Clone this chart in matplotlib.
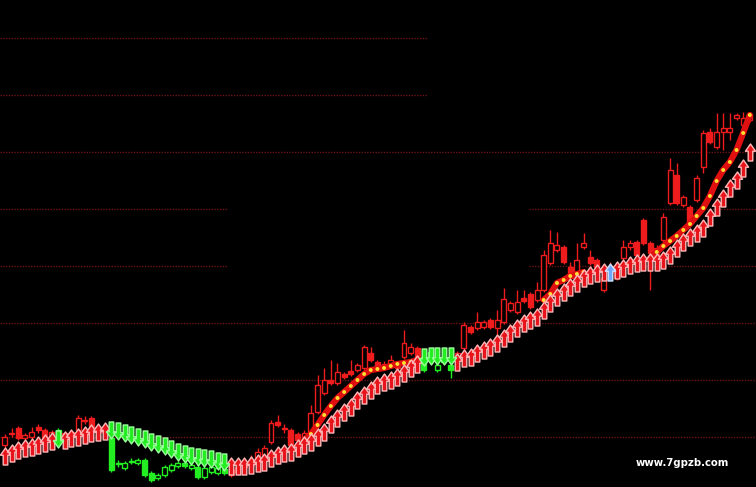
import numpy as np
import matplotlib.pyplot as plt
from matplotlib.path import Path

# 日K数据（开、收、高、低）
opens = [8.70, 8.94, 9.04, 8.84, 8.86, 9.06, 9.00, 8.88, 9.00, 8.86,
         8.90, 9.00, 9.20, 9.24, 9.06, 8.96, 8.84, 8.34, 8.24, 8.38,
         8.34, 8.40, 8.14, 8.04, 8.10, 8.20, 8.28, 8.34, 8.24, 8.26,
         8.06, 8.16, 8.14, 8.22, 8.20, 8.16, 8.26, 8.30, 8.36, 8.40,
         8.76, 9.16, 9.04, 9.00, 8.92, 8.80, 8.86, 9.36, 9.74, 10.00,
         9.94, 10.12, 10.18, 10.20, 10.24, 10.54, 10.36, 10.26, 10.30, 10.34,
         10.46, 10.54, 10.64, 10.46, 10.46, 10.20, 10.36, 10.30, 10.40, 10.64,
         11.06, 11.04, 11.06, 11.20, 11.04, 11.16, 11.40, 11.36, 11.64, 11.72,
         11.60, 11.80, 12.34, 12.60, 12.66, 12.26, 12.14, 12.66, 12.46, 12.40,
         11.80, 12.16, 12.20, 12.44, 12.66, 12.76, 13.20, 12.74, 12.50, 12.80,
         13.54, 14.10, 13.50, 13.46, 13.60, 14.26, 14.96, 14.66, 14.96, 14.96,
         15.24, 15.10, 15.20]
closes = [8.86, 8.92, 8.84, 8.90, 8.96, 9.00, 8.84, 8.96, 8.88, 8.94,
          8.96, 9.24, 9.18, 9.06, 8.96, 9.04, 8.20, 8.32, 8.34, 8.36,
          8.40, 8.10, 8.00, 8.10, 8.26, 8.30, 8.34, 8.28, 8.30, 8.06,
          8.24, 8.26, 8.24, 8.14, 8.10, 8.26, 8.32, 8.40, 8.56, 8.64,
          9.14, 9.10, 9.02, 8.70, 8.80, 8.94, 9.34, 9.90, 10.00, 9.94,
          10.16, 10.06, 10.12, 10.30, 10.66, 10.40, 10.24, 10.32, 10.40, 10.24,
          10.74, 10.66, 10.40, 10.20, 10.56, 10.30, 10.44, 10.20, 10.54, 11.10,
          10.96, 11.16, 11.16, 11.06, 11.20, 11.62, 11.54, 11.56, 11.58, 11.46,
          11.80, 12.50, 12.74, 12.70, 12.36, 12.04, 12.40, 12.74, 12.34, 12.26,
          12.04, 12.28, 12.04, 12.66, 12.74, 12.50, 12.74, 12.54, 12.64, 13.26,
          14.20, 13.54, 13.66, 13.14, 14.04, 14.94, 14.76, 14.96, 15.04, 15.04,
          15.30, 15.24, 15.32]
highs = [8.92, 9.04, 9.08, 8.94, 9.06, 9.12, 9.04, 9.00, 9.04, 8.98,
         9.00, 9.30, 9.28, 9.28, 9.10, 9.08, 8.88, 8.40, 8.38, 8.44,
         8.44, 8.44, 8.18, 8.14, 8.30, 8.34, 8.38, 8.38, 8.34, 8.30,
         8.28, 8.30, 8.28, 8.26, 8.24, 8.30, 8.36, 8.50, 8.64, 8.70,
         9.20, 9.30, 9.12, 9.04, 8.96, 9.00, 9.50, 10.10, 10.24, 10.40,
         10.34, 10.16, 10.40, 10.34, 10.70, 10.66, 10.40, 10.38, 10.50, 10.38,
         11.00, 10.74, 10.68, 10.50, 10.60, 10.34, 10.48, 10.34, 10.58, 11.16,
         11.10, 11.36, 11.20, 11.24, 11.40, 11.84, 11.58, 11.80, 11.80, 11.76,
         11.96, 12.60, 13.00, 12.96, 12.70, 12.36, 12.74, 12.94, 12.60, 12.44,
         12.10, 12.36, 12.24, 12.80, 12.80, 12.80, 13.24, 12.78, 12.70, 13.34,
         14.44, 14.34, 13.70, 13.50, 14.10, 15.00, 15.04, 15.34, 15.34, 15.34,
         15.34, 15.36, 15.36]
lows = [8.64, 8.86, 8.80, 8.80, 8.82, 8.94, 8.80, 8.84, 8.84, 8.82,
        8.86, 8.96, 9.12, 9.02, 8.92, 8.92, 8.16, 8.26, 8.20, 8.32,
        8.30, 8.06, 7.96, 8.00, 8.06, 8.16, 8.24, 8.24, 8.20, 8.02,
        8.02, 8.12, 8.10, 8.10, 8.06, 8.12, 8.22, 8.26, 8.32, 8.36,
        8.72, 9.06, 8.94, 8.66, 8.76, 8.76, 8.82, 9.32, 9.70, 9.90,
        9.90, 10.02, 10.08, 10.16, 10.20, 10.36, 10.20, 10.22, 10.26, 10.20,
        10.42, 10.50, 10.36, 10.16, 10.42, 10.16, 10.32, 10.04, 10.36, 10.60,
        10.92, 11.00, 11.02, 11.02, 10.86, 11.12, 11.36, 11.32, 11.54, 11.42,
        11.56, 11.76, 12.30, 12.56, 12.32, 12.00, 12.10, 12.62, 12.30, 12.22,
        11.76, 12.10, 12.00, 12.40, 12.60, 12.46, 12.70, 11.80, 12.44, 12.76,
        13.50, 13.50, 13.46, 13.10, 13.56, 14.14, 14.72, 14.62, 14.60, 14.80,
        15.20, 15.04, 15.16]

# 箭头支撑/压力线
support = [8.48, 8.54, 8.60, 8.64, 8.66, 8.70, 8.74, 8.78, 8.82, 8.80,
           8.84, 8.86, 8.90, 8.94, 8.96, 8.98, 9.00, 8.98, 8.94, 8.90,
           8.86, 8.82, 8.76, 8.72, 8.68, 8.62, 8.56, 8.52, 8.48, 8.46,
           8.44, 8.42, 8.38, 8.36, 8.28, 8.28, 8.28, 8.30, 8.34, 8.36,
           8.44, 8.50, 8.54, 8.56, 8.64, 8.70, 8.76, 8.86, 8.96, 9.12,
           9.24, 9.36, 9.46, 9.60, 9.70, 9.80, 9.90, 9.96, 10.00, 10.06,
           10.14, 10.24, 10.32, 10.46, 10.48, 10.48, 10.48, 10.48, 10.36, 10.44,
           10.46, 10.54, 10.60, 10.66, 10.74, 10.84, 10.94, 11.04, 11.14, 11.20,
           11.26, 11.40, 11.54, 11.66, 11.76, 11.86, 11.94, 12.04, 12.10, 12.14,
           12.16, 12.16, 12.20, 12.24, 12.30, 12.34, 12.36, 12.36, 12.36, 12.40,
           12.50, 12.64, 12.76, 12.86, 12.94, 13.04, 13.26, 13.46, 13.64, 13.84,
           14.00, 14.24, 14.56]

# 信号：U 多头（红箭头），D 空头（绿箭头），B 蓝色提示
signal = ("UUUUUUUU" + "D" + "UUUUUUU" + "D" * 18 + "U" * 29 + "D" * 5
          + "U" * 23 + "B" + "U" * 21)

# 趋势线（带黄点），None 表示不显示
n = None
trend = [n] * 45 + [8.80, 8.92, 9.10, 9.30, 9.48, 9.64, 9.76, 9.88, 10.00, 10.12,
                    10.20, 10.22, 10.24, 10.28, 10.32, 10.34, 10.36, 10.40] \
    + [n] * 18 + [11.60, 11.72, 11.94, 12.00, 12.08, 12.12, 12.16] \
    + [n] * 9 + [12.44, 12.56, 12.68, 12.78, 12.88, 13.00, 13.12, 13.28, 13.44,
                 13.68, 13.98, 14.20, 14.36, 14.60, 14.94, 15.30]

grid_levels = [8.86, 10.00, 11.14, 12.28, 13.42, 14.56, 15.70, 16.84]

x = np.arange(len(opens))
trend = np.array([np.nan if v is None else v for v in trend])

fig = plt.figure(figsize=(7.56, 4.87), dpi=100, facecolor="black")
ax = fig.add_axes([0, 0, 1, 1], facecolor="black")
ax.set_xlim(-0.75, 112.93)
ax.set_ylim(7.86, 17.6)
ax.axis("off")

# 网格线（部分被遮挡）
for lv in grid_levels:
    if lv > 15:
        spans = [(0, 0.565)]
    elif 12 < lv < 14:
        spans = [(0, 0.3), (0.70, 1)]
    else:
        spans = [(0, 1)]
    for a, b in spans:
        ax.axhline(lv, a, b, color="#6a1616", lw=1, ls=(0, (1, 1)), zorder=1)

# K线
red = "#ee1c1c"
green = "#22ee22"
for i in x:
    c = green if signal[i] == "D" else red
    o, cl = opens[i], closes[i]
    ax.vlines(i, lows[i], highs[i], color=c, lw=1, zorder=2)
    bottom = min(o, cl)
    h = max(abs(cl - o), 0.02)
    face = "black" if cl > o else c
    ax.bar(i, h, bottom=bottom, width=0.75, facecolor=face, edgecolor=c,
           lw=1, zorder=3)

# 趋势线 + 黄点
ax.plot(x, trend, color="#e01010", lw=4.5, solid_capstyle="round", zorder=4)
ax.scatter(x, trend, s=8, color="#ffe030", edgecolors="none", zorder=5)

# 箭头
up = Path([(0, 1), (0.6, 0.15), (0.27, 0.15), (0.27, -1), (-0.27, -1),
           (-0.27, 0.15), (-0.6, 0.15), (0, 1)],
          [Path.MOVETO] + [Path.LINETO] * 6 + [Path.CLOSEPOLY])
down = Path([(vx, -vy) for vx, vy in up.vertices], up.codes)

sig = np.array(list(signal))
sup = np.array(support)
m = sig == "U"
ax.scatter(x[m], sup[m], marker=up, s=150, facecolor="#e8141c",
           edgecolors="#ffb8b8", linewidths=1.0, zorder=6)
m = sig == "D"
ax.scatter(x[m], sup[m], marker=down, s=150, facecolor="#22ee22",
           edgecolors="#9cff9c", linewidths=1.0, zorder=6)
m = sig == "B"
ax.scatter(x[m], sup[m], marker=up, s=150, facecolor="#6fa8ff",
           edgecolors="#d0e4ff", linewidths=1.0, zorder=6)

ax.text(0.902, 0.049, "www.7gpzb.com", transform=ax.transAxes, color="white",
        fontsize=7.3, fontweight="semibold", ha="center", va="center", zorder=7)

fig.savefig("out.png", dpi=100, facecolor="black")
